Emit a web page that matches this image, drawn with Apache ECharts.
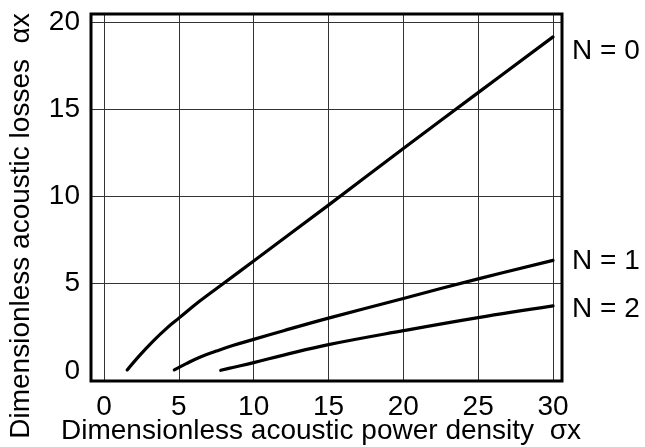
<!DOCTYPE html>
<html>
<head>
<meta charset="utf-8">
<script src="https://cdn.jsdelivr.net/npm/echarts@6/dist/echarts.min.js"></script>
<style>
  html, body { margin: 0; padding: 0; background: #fff; }
  #chart { width: 645px; height: 447px; }
</style>
</head>
<body>
<div id="chart"></div>
<script>
// Tick values on each axis
const xTickValues = [0, 5, 10, 15, 20, 25, 30];
const yTickValues = [0, 5, 10, 15, 20];
const yGridValues = [5, 10, 15, 20];

// Curve labels
const curveNames = ['N = 0', 'N = 1', 'N = 2'];

// Dimensionless losses αx against power density σx, one curve per N
const curveN0 = [[1.55, 0.05], [2.4, 0.9], [3.3, 1.72], [4.2, 2.45], [5, 3.02], [6.4, 4.0], [8, 5.02],
                 [10, 6.3], [15, 9.5], [20, 12.75], [25, 15.95], [30, 19.15]];
const curveN1 = [[4.7, 0.05], [5.5, 0.41], [6.4, 0.78], [7.5, 1.13], [8.6, 1.45], [10, 1.8], [12, 2.3],
                 [15, 3.02], [20, 4.15], [25, 5.27], [30, 6.33]];
const curveN2 = [[7.8, 0.03], [8.6, 0.19], [10, 0.47], [12, 0.9], [15, 1.5], [20, 2.3], [25, 3.05], [30, 3.72]];

const FONT = 'Liberation Sans, Arial, sans-serif';

const chart = echarts.init(document.getElementById('chart'), null, { renderer: 'canvas' });

const lineSeries = (name, data) => ({
  name: name,
  type: 'line',
  data: data,
  smooth: 0.4,
  showSymbol: false,
  symbol: 'none',
  lineStyle: { color: '#000', width: 3.2, cap: 'round', join: 'round' },
  z: 5,
  animation: false
});

chart.setOption({
  animation: false,
  backgroundColor: '#fff',
  grid: {
    left: 91, top: 14, width: 471, height: 367,
    show: true,
    borderColor: '#000',
    borderWidth: 3,
    backgroundColor: 'transparent',
    z: 10
  },
  xAxis: {
    type: 'value',
    min: -0.868,
    max: 30.6,
    axisLine: { show: false },
    axisTick: { show: false, customValues: xTickValues },
    axisLabel: {
      customValues: xTickValues,
      margin: 12,
      fontFamily: FONT,
      fontSize: 28,
      color: '#000'
    },
    splitLine: { show: true, lineStyle: { color: '#333', width: 1 } }
  },
  yAxis: {
    type: 'value',
    min: -0.585,
    max: 20.46,
    axisLine: { show: false },
    axisTick: { show: false, customValues: yGridValues },
    axisLabel: {
      customValues: yTickValues,
      margin: 11,
      fontFamily: FONT,
      fontSize: 28,
      color: '#000'
    },
    splitLine: { show: true, lineStyle: { color: '#333', width: 1 } }
  },
  series: [
    lineSeries(curveNames[0], curveN0),
    lineSeries(curveNames[1], curveN1),
    lineSeries(curveNames[2], curveN2)
  ],
  graphic: [
    {
      type: 'text', left: 61, top: 417,
      style: { text: 'Dimensionless acoustic power density  σx', font: '28px ' + FONT, fill: '#000' }
    },
    {
      type: 'text', x: 21, y: 226, rotation: Math.PI / 2,
      style: { text: 'Dimensionless acoustic losses  αx', font: '28px ' + FONT, fill: '#000',
               align: 'center', verticalAlign: 'middle' }
    },
    {
      type: 'text', x: 572, y: 51,
      style: { text: curveNames[0], font: '28px ' + FONT, fill: '#000', verticalAlign: 'middle' }
    },
    {
      type: 'text', x: 572, y: 261,
      style: { text: curveNames[1], font: '28px ' + FONT, fill: '#000', verticalAlign: 'middle' }
    },
    {
      type: 'text', x: 572, y: 309,
      style: { text: curveNames[2], font: '28px ' + FONT, fill: '#000', verticalAlign: 'middle' }
    }
  ]
});
</script>
</body>
</html>
